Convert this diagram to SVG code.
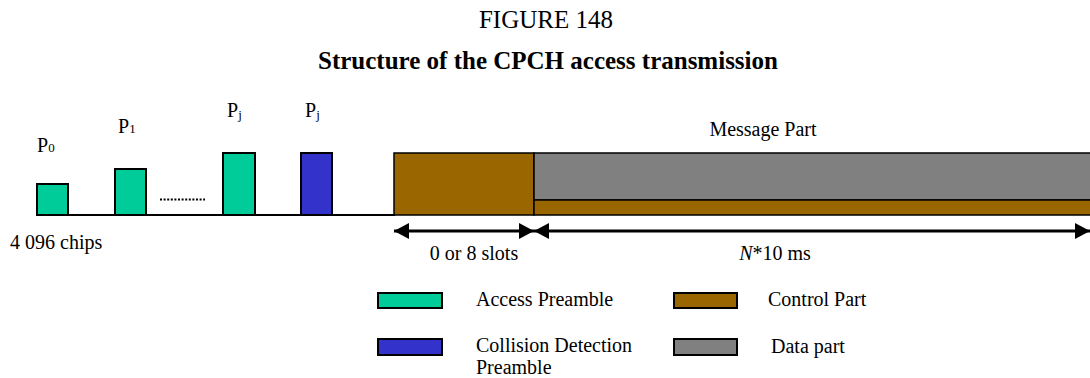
<svg xmlns="http://www.w3.org/2000/svg" width="1090" height="378" viewBox="0 0 1090 378">
<style>
text{font-family:"Liberation Serif","Times New Roman",serif;fill:#000}
.t{font-size:20px}
.sub{font-size:13px}
.box{stroke:#000;stroke-width:2}
.grn{fill:#00CC99}
.blu{fill:#3333CC}
.brn{fill:#996600}
.gry{fill:#808080}
.ln{stroke:#000;stroke-width:3;fill:none}
</style>
<defs>
<marker id="ah" viewBox="0 0 15 16" refX="15" refY="8" markerWidth="15" markerHeight="16" markerUnits="userSpaceOnUse" orient="auto-start-reverse">
<path d="M0,0 L15,8 L0,16 Z" fill="#000"/>
</marker>
</defs>
<text x="546" y="28" text-anchor="middle" style="font-size:25px">FIGURE 148</text>
<text x="548" y="69" text-anchor="middle" style="font-size:25px;font-weight:bold">Structure of the CPCH access transmission</text>

<g id="baseline"><line x1="37" y1="215" x2="395" y2="215" stroke="#000" stroke-width="2"/></g>
<g id="p0"><rect class="box grn" x="37" y="184" width="31" height="31"/><text class="t" x="37" y="152">P<tspan class="sub">0</tspan></text></g>
<g id="p1"><rect class="box grn" x="115" y="169" width="31" height="46"/><text class="t" x="118" y="133">P<tspan class="sub">1</tspan></text></g>
<g id="dots"><line x1="160" y1="199.5" x2="205" y2="199.5" stroke="#000" stroke-width="2" stroke-dasharray="2,1.6"/></g>
<g id="pj"><rect class="box grn" x="223" y="153" width="32" height="62"/><text class="t" x="227" y="117">P<tspan class="sub" dy="2">j</tspan></text></g>
<g id="pj-cd"><rect class="box blu" x="301" y="153" width="31" height="62"/><text class="t" x="305" y="117">P<tspan class="sub" dy="2">j</tspan></text></g>
<g id="chips"><text class="t" x="10" y="249">4 096 chips</text></g>

<g id="control"><rect class="brn" x="394" y="153" width="140" height="62" stroke="#000" stroke-width="1.5"/></g>
<g id="message">
<rect class="gry" x="534" y="153" width="560" height="47" stroke="#000" stroke-width="1.5"/>
<rect class="brn" x="534" y="200" width="560" height="15" stroke="#000" stroke-width="1.5"/>
<text class="t" x="763" y="136" text-anchor="middle">Message Part</text>
</g>

<g id="connectors">
<line class="ln" x1="394" y1="231" x2="534" y2="231" marker-start="url(#ah)" marker-end="url(#ah)"/>
<line class="ln" x1="534" y1="231" x2="1090" y2="231" marker-start="url(#ah)" marker-end="url(#ah)"/>
</g>
<text class="t" x="474" y="260" text-anchor="middle">0 or 8 slots</text>
<text class="t" x="775" y="260" text-anchor="middle"><tspan font-style="italic">N</tspan>*10 ms</text>

<g id="legend">
<rect class="box grn" x="378" y="293" width="64" height="15"/>
<text class="t" x="476" y="306">Access Preamble</text>
<rect class="box blu" x="378" y="339" width="64" height="16"/>
<text class="t" x="476" y="352">Collision Detection</text>
<text class="t" x="476" y="374">Preamble</text>
<rect class="box brn" x="674" y="293" width="63" height="15"/>
<text class="t" x="768" y="306">Control Part</text>
<rect class="box gry" x="674" y="339" width="63" height="16"/>
<text class="t" x="771" y="353">Data part</text>
</g>
</svg>
